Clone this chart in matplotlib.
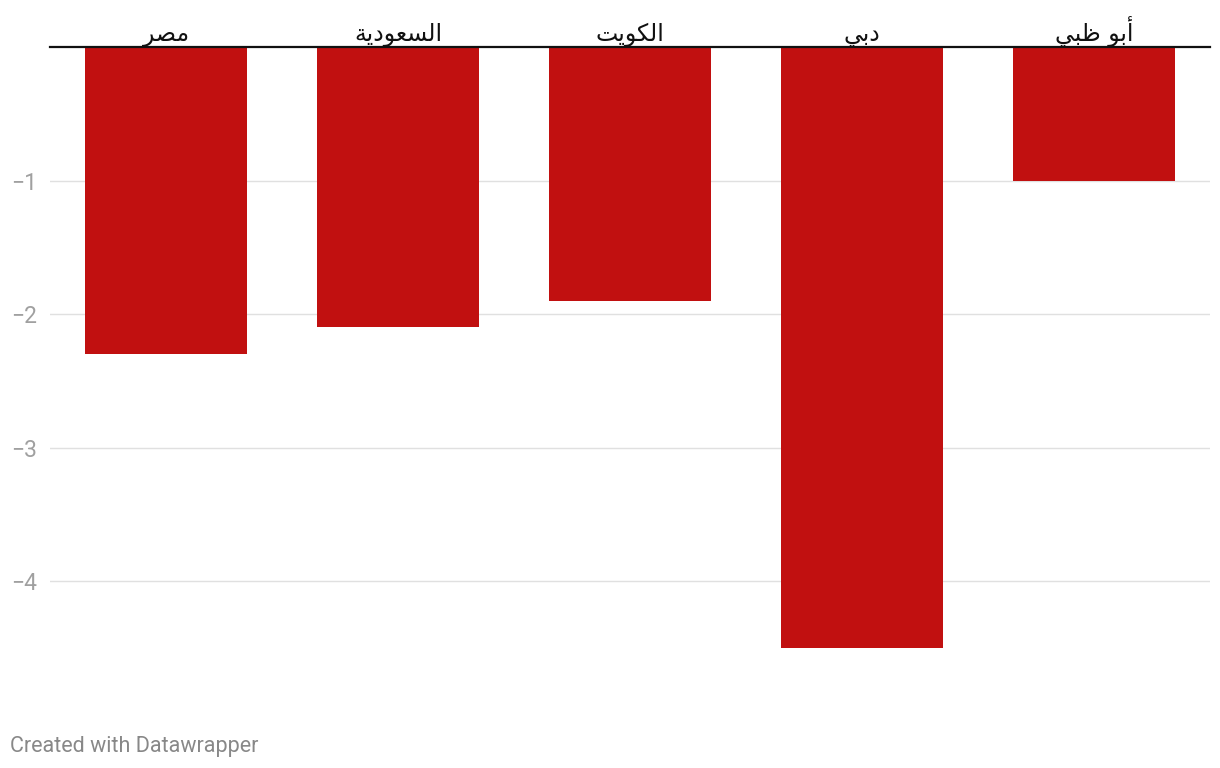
import matplotlib.pyplot as plt
from matplotlib.transforms import offset_copy

# Data
regions = ["مصر", "السعودية", "الكويت", "دبي", "أبو ظبي"]
values = [-2.3, -2.1, -1.9, -4.5, -1.0]
yticks = [-1, -2, -3, -4]
ytick_labels = ["−1", "−2", "−3", "−4"]

# matplotlib has no Arabic shaping, so pick the presentation forms by hand
# (isolated, final, initial, medial); two-form letters do not join forward
FORMS = {
    "ا": "\ufe8d\ufe8e", "أ": "\ufe83\ufe84", "د": "\ufea9\ufeaa",
    "ر": "\ufead\ufeae", "و": "\ufeed\ufeee", "ة": "\ufe93\ufe94",
    "ب": "\ufe8f\ufe90\ufe91\ufe92", "ت": "\ufe95\ufe96\ufe97\ufe98",
    "س": "\ufeb1\ufeb2\ufeb3\ufeb4", "ص": "\ufeb9\ufeba\ufebb\ufebc",
    "ظ": "\ufec5\ufec6\ufec7\ufec8", "ع": "\ufec9\ufeca\ufecb\ufecc",
    "ك": "\ufed9\ufeda\ufedb\ufedc", "ل": "\ufedd\ufede\ufedf\ufee0",
    "م": "\ufee1\ufee2\ufee3\ufee4", "ي": "\ufef1\ufef2\ufef3\ufef4",
}


def shape(word):
    out = []
    for i, ch in enumerate(word):
        f = FORMS.get(ch)
        if f is None:
            out.append(ch)
            continue
        prev = word[i - 1] if i > 0 else None
        nxt = word[i + 1] if i + 1 < len(word) else None
        jp = prev in FORMS and len(FORMS[prev]) == 4
        jn = len(f) == 4 and nxt in FORMS
        if jp and jn:
            out.append(f[3])
        elif jp:
            out.append(f[1])
        elif jn:
            out.append(f[2])
        else:
            out.append(f[0])
    return "".join(out)[::-1]


fig = plt.figure(figsize=(12.2, 7.68), dpi=100)
ax = fig.add_axes([50 / 1220, 1 - 648 / 768, 1160 / 1220, 601 / 768])

x = list(range(len(regions)))
ax.bar(x, values, width=0.7, color="#c11010", zorder=2)

ax.set_xlim(-0.5, len(regions) - 0.5)
ax.set_ylim(-4.5, 0)

for y in yticks:
    ax.axhline(y, color="#e0e0e0", lw=1, zorder=0)
ax.axhline(0, color="#111111", lw=1.6, zorder=3, clip_on=False)

ax.set_xticks([])
ax.set_yticks(yticks)
ax.set_yticklabels(ytick_labels, fontfamily="Roboto", fontsize=16.5, color="#a0a0a0")
ax.tick_params(axis="y", length=0, pad=9)
for s in ax.spines.values():
    s.set_visible(False)

trans = offset_copy(ax.transData, fig=fig, x=0, y=4, units="points")
for xi, name in zip(x, regions):
    ax.text(xi, 0, shape(name), ha="center", va="baseline", fontsize=17,
            family=["DejaVu Sans"], color="#111111", transform=trans,
            zorder=4, clip_on=False)

fig.text(10 / 1220, 1 - 752 / 768, "Created with Datawrapper", fontfamily="Roboto",
         fontsize=15.5, color="#888888", ha="left", va="baseline")

fig.savefig("out.png", dpi=100)
